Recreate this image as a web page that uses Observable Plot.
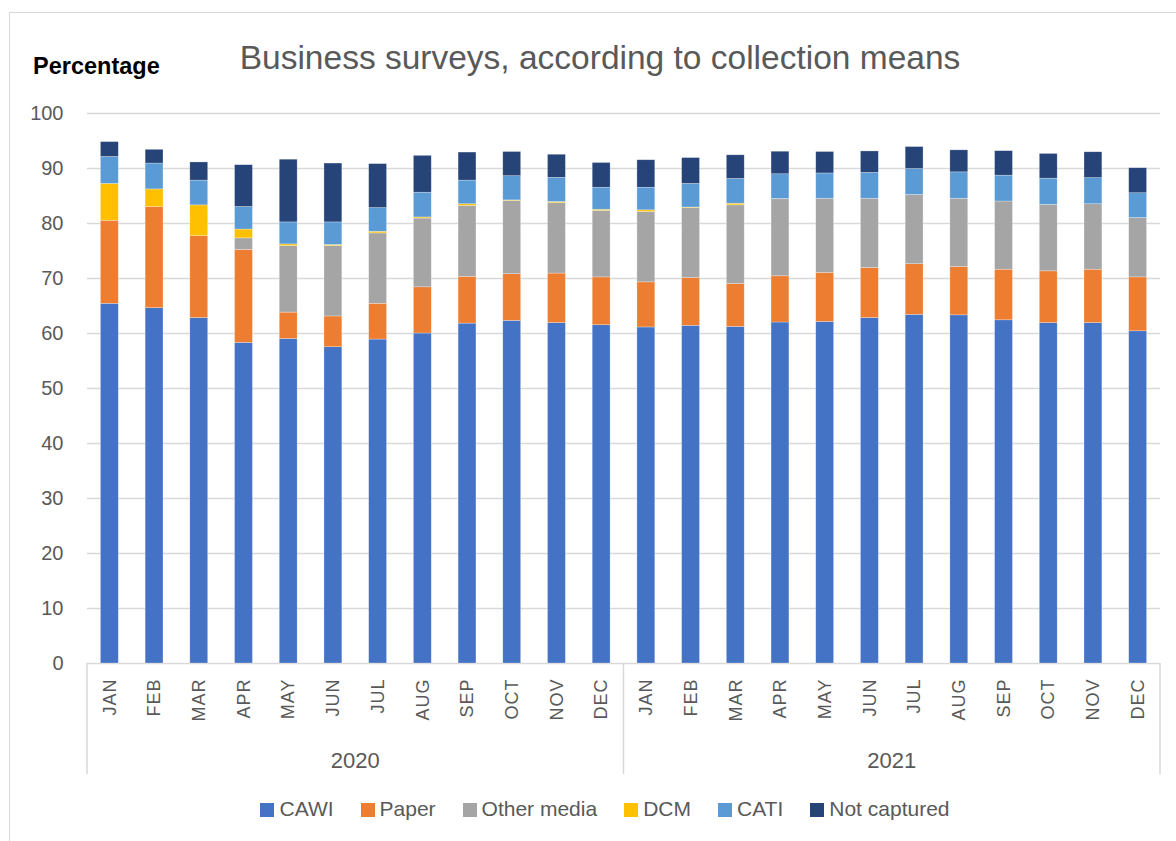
<!DOCTYPE html>
<html>
<head>
<meta charset="utf-8">
<script src="https://cdn.jsdelivr.net/npm/d3@7"></script>
<script src="https://cdn.jsdelivr.net/npm/@observablehq/plot@0.6"></script>
<style>
  body { margin: 0; background: #fff; overflow: hidden; }
  #wrap { position: relative; width: 1176px; height: 841px; font-family: "Liberation Sans", Arial, sans-serif; color: #595959; }
  #border { position: absolute; left: 9px; top: 12px; width: 1190px; height: 850px; border: 1.5px solid #d9d9d9; box-sizing: border-box; }
  #title { position: absolute; left: 0; width: 1200px; top: 39px; text-align: center; font-size: 33.5px; font-weight: 300; color: #595959; }
  #ylab { position: absolute; left: 33px; top: 53px; font-weight: bold; font-size: 23.5px; color: #000; }
  #chart { position: absolute; left: 0; top: 0; }
  #legend { position: absolute; left: 17px; width: 1176px; top: 797px; display: flex; justify-content: center; gap: 27px; font-size: 21px; }
  #legend span.sw { display: inline-block; width: 14px; height: 14px; margin-right: 5px; vertical-align: -1px; }
</style>
</head>
<body>
<div id="wrap">
  <div id="border"></div>
  <div id="chart"></div>
  <div id="title">Business surveys, according to collection means</div>
  <div id="ylab">Percentage</div>
  <div id="legend"></div>
</div>
<script>
const months = ["JAN","FEB","MAR","APR","MAY","JUN","JUL","AUG","SEP","OCT","NOV","DEC"];
const years = ["2020","2021"];
const series = ["CAWI","Paper","Other media","DCM","CATI","Not captured"];
const colors = ["#4472C4","#ED7D31","#A5A5A5","#FFC000","#5B9BD5","#264478"];
const yTicks = [0,10,20,30,40,50,60,70,80,90,100];

const CAWI        = [65.4,64.6,62.8,58.3,59.0,57.5,58.9,60.0,61.8,62.3,61.9,61.5, 61.1,61.4,61.2,62.0,62.1,62.8,63.4,63.3,62.4,61.9,61.9,60.4];
const Paper       = [15.1,18.4,14.9,16.9,4.8,5.6,6.5,8.4,8.5,8.5,9.0,8.7, 8.2,8.7,7.8,8.4,8.9,9.1,9.2,8.8,9.2,9.4,9.7,9.8];
const OtherMedia  = [0,0,0,2.1,12.1,12.8,12.8,12.5,12.9,13.3,12.8,12.1, 12.8,12.7,14.3,14.0,13.5,12.6,12.6,12.4,12.4,12.1,11.9,10.8];
const DCM         = [6.7,3.2,5.6,1.6,0.3,0.2,0.3,0.2,0.3,0.1,0.2,0.2, 0.3,0.1,0.3,0.05,0,0,0,0,0,0,0,0];
const CATI        = [4.9,4.7,4.5,4.1,4.0,4.1,4.3,4.5,4.3,4.4,4.4,4.0, 4.1,4.3,4.5,4.5,4.6,4.7,4.7,4.8,4.7,4.75,4.75,4.5];
const NotCaptured = [2.7,2.5,3.3,7.6,11.4,10.7,8.0,6.7,5.1,4.4,4.2,4.5, 5.0,4.7,4.3,4.1,3.9,3.9,4.0,4.0,4.45,4.5,4.7,4.55];

const seriesValues = [CAWI, Paper, OtherMedia, DCM, CATI, NotCaptured];
const keys = years.flatMap(y => months.map(m => `${y} ${m}`));
const data = series.flatMap((s, i) => keys.map((k, j) => ({key: k, series: s, value: seriesValues[i][j]})));

const font = '"Liberation Sans", Arial, sans-serif';
const W = 1176, H = 841, mL = 87, mR = 16, mT = 113, mB = 178;

const plot = Plot.plot({
  width: W, height: H,
  marginTop: mT, marginBottom: mB, marginLeft: mL, marginRight: mR,
  x: {domain: keys, paddingInner: 0.6, paddingOuter: 0.3, round: false, label: null},
  y: {domain: [0, 100], label: null},
  color: {domain: series, range: colors},
  style: {fontFamily: font, color: "#595959", background: "transparent", overflow: "visible"},
  marks: [
    Plot.gridY(yTicks, {stroke: "#d9d9d9", strokeOpacity: 1, strokeWidth: 1.5}),
    Plot.barY(data, {x: "key", y: "value", fill: "series", order: series, stroke: "#ffffff", strokeOpacity: 0.45, strokeWidth: 0.6}),
    Plot.axisY(yTicks, {tickSize: 0, tickPadding: 24, fontSize: 20, label: null, fill: "#595959"}),
    Plot.axisX({tickSize: 0, tickPadding: 15, tickRotate: -90, fontSize: 18, tickFormat: d => d.split(" ")[1], label: null, fill: "#595959"})
  ]
});
document.getElementById("chart").appendChild(plot);

// letter spacing on month labels (Excel style)
d3.select(plot).selectAll('g[aria-label="x-axis tick label"] text').attr("letter-spacing", "1px");

// category group separators and year labels
const x = plot.scale("x");
const bw = x.bandwidth, step = x.step;
const half = (step - bw) / 2;
const svg = d3.select(plot);
const y0 = H - mB;
const yearEdges = years.map(y => {
  const a = x.apply(`${y} ${months[0]}`) - half;
  const b = x.apply(`${y} ${months[months.length - 1]}`) + bw + half;
  return [a, b];
});
const edges = [yearEdges[0][0], ...yearEdges.map(e => e[1])];
const g = svg.append("g").attr("aria-label", "year groups");
edges.forEach(e => g.append("line").attr("x1", e).attr("x2", e).attr("y1", y0).attr("y2", y0 + 111).attr("stroke", "#d9d9d9").attr("stroke-width", 1.5));
years.forEach((yr, i) => g.append("text").attr("x", (yearEdges[i][0] + yearEdges[i][1]) / 2).attr("y", y0 + 105)
  .attr("text-anchor", "middle").attr("font-size", 22).attr("fill", "#595959").attr("font-family", font).text(yr));

// legend
const leg = d3.select("#legend");
series.forEach((s, i) => {
  const it = leg.append("div");
  it.append("span").attr("class", "sw").style("background", colors[i]);
  it.append("span").text(s);
});
</script>
</body>
</html>
